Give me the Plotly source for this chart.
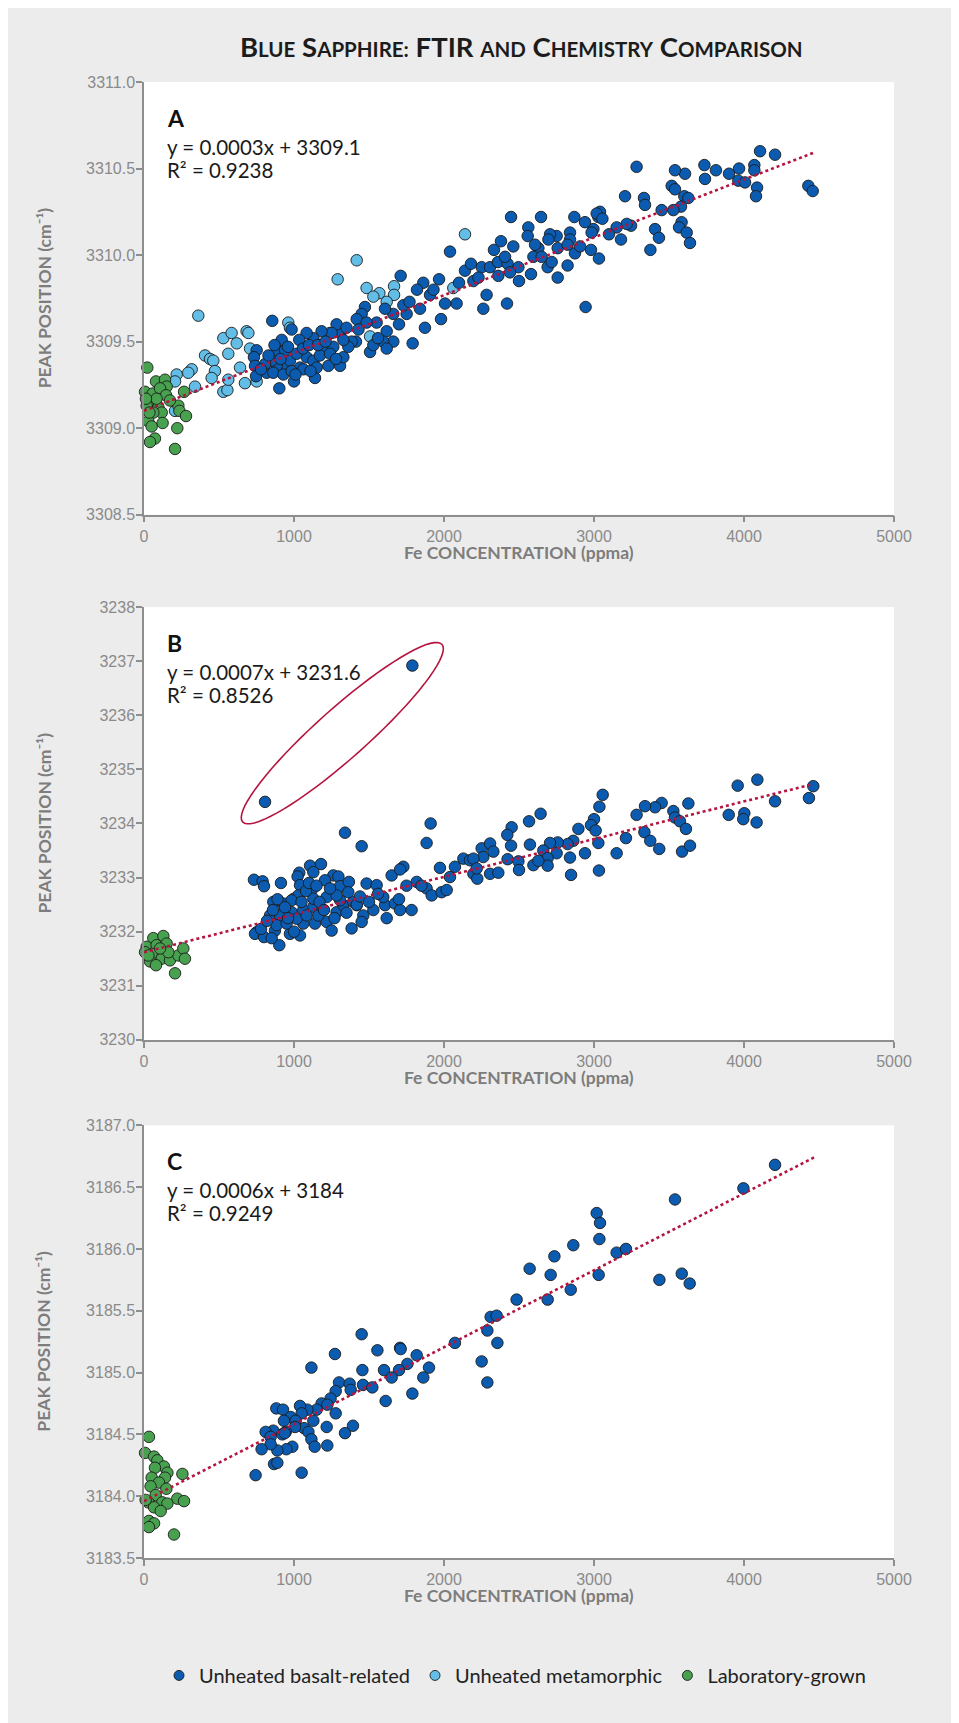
import math
import plotly.graph_objects as go

# ---------------- data ----------------
A_BASALT = [
    (855, 3309.62), (1711, 3309.88), (2040, 3310.02), (2333, 3310.03), (2262, 3309.69), (1980, 3309.63), (1873, 3309.58), (1791, 3309.49), (1862, 3309.84), (1967, 3309.86),
    (2251, 3309.93), (2307, 3309.93), (2140, 3309.91), (2196, 3309.85), (2284, 3309.77), (2084, 3309.72), (2007, 3309.72), (1907, 3309.77), (1840, 3309.69), (1751, 3309.66),
    (1729, 3309.71), (1662, 3309.66), (1607, 3309.69), (1551, 3309.61), (1618, 3309.56), (1662, 3309.50), (1595, 3309.50), (1618, 3309.46), (1507, 3309.44), (1529, 3309.48),
    (1473, 3309.70), (1451, 3309.66), (1418, 3309.63), (1484, 3309.61), (1413, 3309.50), (1384, 3309.50), (1307, 3309.55), (1284, 3309.60), (1251, 3309.55), (1184, 3309.56),
    (1129, 3309.52), (1084, 3309.55), (1035, 3309.51), (984, 3309.57), (918, 3309.51), (884, 3309.45), (751, 3309.45), (733, 3309.41), (740, 3309.36), (747, 3309.30),
    (818, 3309.32), (902, 3309.23), (1000, 3309.27), (1140, 3309.29), (1229, 3309.36), (1307, 3309.36), (1329, 3309.41), (1362, 3309.47), (1196, 3309.45), (1084, 3309.41),
    (1040, 3309.35), (951, 3309.35), (884, 3309.36), (851, 3309.39), (807, 3309.37), (973, 3309.39), (1018, 3309.43), (1129, 3309.39), (1173, 3309.42), (1262, 3309.47),
    (1329, 3309.51), (940, 3309.45), (862, 3309.32), (929, 3309.31), (1062, 3309.34), (1151, 3309.35), (984, 3309.33),
    (780, 3309.34), (830, 3309.42), (870, 3309.48), (910, 3309.40), (960, 3309.47), (1010, 3309.31), (1060, 3309.46), (1100, 3309.48), (1110, 3309.33), (1160, 3309.48),
    (1210, 3309.50), (1240, 3309.43), (1280, 3309.40), (1350, 3309.58), (1430, 3309.57), (1560, 3309.52), (1700, 3309.60), (1770, 3309.73), (1820, 3309.80), (1930, 3309.80),
    (2100, 3309.84), (2180, 3309.95), (2230, 3309.87), (2360, 3309.96), (2380, 3310.08),
    (4107, 3310.60), (4207, 3310.58), (4069, 3310.52), (4069, 3310.49), (3967, 3310.50), (3900, 3310.47), (3813, 3310.49), (3736, 3310.52), (3740, 3310.44), (3607, 3310.47),
    (3540, 3310.49), (3284, 3310.51), (3962, 3310.43), (4007, 3310.42), (4087, 3310.39), (4080, 3310.34), (4429, 3310.40), (4458, 3310.37), (3518, 3310.40), (3540, 3310.38),
    (3602, 3310.34), (3629, 3310.33), (3580, 3310.28), (3529, 3310.26), (3451, 3310.26), (3333, 3310.33), (3340, 3310.29), (3207, 3310.34), (3584, 3310.19), (3567, 3310.16),
    (3618, 3310.13), (3640, 3310.07), (3407, 3310.15), (3433, 3310.10), (3376, 3310.03), (3247, 3310.17), (3218, 3310.18), (3151, 3310.16), (3180, 3310.09), (3100, 3310.12),
    (3040, 3310.25), (3029, 3310.22), (3018, 3310.24), (3056, 3310.21), (2996, 3310.15), (2984, 3310.13), (2940, 3310.19), (2869, 3310.22), (2980, 3310.03), (3033, 3309.98),
    (2944, 3309.70), (2873, 3310.01), (2840, 3310.13), (2840, 3310.09), (2907, 3310.05), (2824, 3309.94), (2758, 3309.87), (2758, 3310.04), (2751, 3310.11), (2707, 3310.12),
    (2696, 3310.09), (2629, 3310.04), (2647, 3310.22), (2691, 3309.93), (2562, 3310.16), (2558, 3310.11), (2607, 3310.06), (2596, 3309.99), (2580, 3309.89), (2500, 3309.85),
    (2496, 3309.93), (2462, 3310.05), (2447, 3310.22), (2424, 3309.95), (2440, 3309.90), (2420, 3309.72), (2362, 3309.88), (2407, 3309.99), (2651, 3309.99), (2718, 3309.96),
    (2824, 3310.06),
]
A_META = [
    (362, 3309.65), (529, 3309.52), (584, 3309.55), (618, 3309.49), (684, 3309.56), (696, 3309.55), (707, 3309.46), (407, 3309.42), (440, 3309.40), (462, 3309.39),
    (562, 3309.43), (473, 3309.33), (451, 3309.29), (318, 3309.34), (295, 3309.32), (218, 3309.31), (207, 3309.27), (340, 3309.24), (529, 3309.21), (556, 3309.22),
    (562, 3309.28), (673, 3309.26), (751, 3309.27), (640, 3309.35), (207, 3309.10), (1418, 3309.97), (1291, 3309.86), (1484, 3309.81), (1569, 3309.78), (1667, 3309.82),
    (1667, 3309.77), (1618, 3309.73), (2140, 3310.12), (962, 3309.61), (973, 3309.58), (1507, 3309.53), (1240, 3309.55), (2062, 3309.81), (1529, 3309.76),
]
A_LAB = [
    (22, 3309.35), (80, 3309.27), (140, 3309.28), (151, 3309.24), (7, 3309.21), (58, 3309.20), (107, 3309.23), (147, 3309.19), (51, 3309.15), (18, 3309.13),
    (96, 3309.12), (229, 3309.13), (267, 3309.21), (236, 3309.10), (280, 3309.07), (118, 3309.09), (62, 3309.09), (29, 3309.04), (124, 3309.03), (51, 3309.01),
    (222, 3309.00), (73, 3308.94), (40, 3308.92), (207, 3308.88), (36, 3309.09), (173, 3309.16), (84, 3309.17), (13, 3309.17),
]
A_TREND_X = [0, 4460]
A_TREND_Y = [3309.10, 3310.59]

B_BASALT = [
    (1911, 3234.00), (1340, 3233.83), (1451, 3233.58), (1884, 3233.64), (733, 3232.96), (791, 3232.93), (800, 3232.84), (913, 3232.90), (1035, 3233.09), (1107, 3233.22),
    (1180, 3233.25), (1129, 3233.10), (1024, 3233.02), (1262, 3233.04), (1296, 3233.02), (1207, 3232.95), (1307, 3232.84), (1366, 3232.92), (1484, 3232.89), (1551, 3232.86),
    (1651, 3233.04), (1729, 3233.20), (1707, 3233.15), (1818, 3232.92), (1884, 3232.80), (1918, 3232.67), (1973, 3233.18), (1984, 3232.73), (2018, 3232.77), (2040, 3233.01),
    (2073, 3233.20), (2129, 3233.35), (2173, 3233.32), (2196, 3233.07), (2222, 3232.98), (2251, 3233.54), (2262, 3233.38), (2307, 3233.63), (2329, 3233.48), (2307, 3233.07),
    (862, 3232.55), (929, 3232.52), (1000, 3232.61), (840, 3232.30), (907, 3232.30), (984, 3232.36), (1062, 3232.40), (1129, 3232.46), (1191, 3232.41), (1284, 3232.36),
    (1329, 3232.49), (1395, 3232.55), (1418, 3232.49), (1462, 3232.30), (1529, 3232.40), (1607, 3232.49), (1673, 3232.52), (1707, 3232.40), (1784, 3232.40), (1618, 3232.25),
    (1595, 3232.64), (751, 3231.99), (740, 3231.96), (800, 3231.90), (873, 3232.02), (902, 3231.75), (973, 3231.96), (1040, 3231.93), (1062, 3232.15), (1140, 3232.15),
    (1218, 3232.18), (1251, 3232.02), (1384, 3232.06), (1451, 3232.18), (851, 3231.88), (884, 3232.12), (951, 3232.15), (1018, 3232.24), (1084, 3232.30), (1162, 3232.30),
    (1218, 3232.64), (1118, 3232.77), (1040, 3232.86), (1029, 3232.67), (984, 3232.58), (1129, 3232.61), (1307, 3232.58), (1362, 3232.73), (1418, 3232.50), (1284, 3232.67),
    (2196, 3233.35), (2218, 3233.17),
    (780, 3232.05), (820, 3232.20), (860, 3232.40), (890, 3232.60), (940, 3232.45), (960, 3232.25), (1000, 3232.00), (1050, 3232.55), (1080, 3232.75), (1100, 3232.90),
    (1150, 3232.85), (1170, 3232.55), (1200, 3232.40), (1240, 3232.80), (1270, 3232.25), (1350, 3232.35), (1440, 3232.65), (1500, 3232.55), (1560, 3232.70), (1700, 3232.60),
    (1750, 3232.85), (1850, 3232.85),
    (4462, 3234.69), (4433, 3234.47), (4089, 3234.81), (3958, 3234.70), (4207, 3234.41), (3898, 3234.16), (4002, 3234.19), (3995, 3234.08), (4084, 3234.02), (3629, 3234.37),
    (3451, 3234.38), (3407, 3234.30), (3340, 3234.32), (3284, 3234.16), (3529, 3234.23), (3540, 3234.11), (3573, 3234.04), (3613, 3233.90), (3336, 3233.84), (3375, 3233.68),
    (3435, 3233.53), (3587, 3233.48), (3640, 3233.59), (3213, 3233.73), (3151, 3233.45), (3058, 3234.53), (3036, 3234.31), (3000, 3234.08), (2980, 3233.97), (3011, 3233.87),
    (3029, 3233.64), (3033, 3233.13), (2940, 3233.45), (2840, 3233.37), (2847, 3233.05), (2896, 3233.90), (2862, 3233.68), (2824, 3233.62), (2758, 3233.65), (2751, 3233.45),
    (2707, 3233.64), (2662, 3233.50), (2691, 3233.36), (2691, 3233.22), (2644, 3234.18), (2567, 3234.04), (2573, 3233.61), (2451, 3233.93), (2422, 3233.79), (2447, 3233.59),
    (2424, 3233.34), (2496, 3233.30), (2500, 3233.14), (2596, 3233.23), (2629, 3233.31), (2362, 3233.09),
    (807, 3234.40), (1789, 3236.92),
]
B_LAB = [
    (62, 3231.88), (129, 3231.92), (18, 3231.72), (84, 3231.75), (151, 3231.78), (51, 3231.59), (118, 3231.50), (40, 3231.45), (80, 3231.38), (173, 3231.47),
    (229, 3231.56), (262, 3231.69), (273, 3231.50), (207, 3231.23), (7, 3231.62), (162, 3231.62), (107, 3231.69), (29, 3231.56),
]
B_TREND_X = [0, 4462]
B_TREND_Y = [3231.62, 3234.73]

C_BASALT = [
    (2571, 3185.84), (2484, 3185.59), (2311, 3185.45), (2351, 3185.46), (2289, 3185.34), (2356, 3185.24), (2073, 3185.24), (2251, 3185.09), (2289, 3184.92), (1451, 3185.31),
    (1273, 3185.15), (1556, 3185.18), (1707, 3185.20), (1711, 3185.19), (1818, 3185.14), (1756, 3185.07), (1900, 3185.04), (1862, 3184.96), (1700, 3185.02), (1600, 3185.02),
    (1651, 3184.96), (1456, 3185.02), (1116, 3185.04), (1300, 3184.92), (1371, 3184.91), (1460, 3184.90), (1522, 3184.88), (1378, 3184.86), (1278, 3184.85), (1244, 3184.79),
    (1789, 3184.83), (1611, 3184.77), (1184, 3184.75), (1222, 3184.74), (1151, 3184.70), (1089, 3184.70), (1040, 3184.73), (882, 3184.71), (927, 3184.70), (1278, 3184.67),
    (1051, 3184.67), (978, 3184.64), (933, 3184.61), (1011, 3184.61), (1129, 3184.61), (1218, 3184.56), (1393, 3184.57), (1340, 3184.51), (1067, 3184.55), (1007, 3184.56),
    (945, 3184.52), (862, 3184.53), (811, 3184.52), (844, 3184.48), (922, 3184.50), (938, 3184.51), (1096, 3184.52), (1116, 3184.46), (1138, 3184.40), (1222, 3184.41),
    (989, 3184.40), (949, 3184.38), (889, 3184.37), (844, 3184.42), (784, 3184.38), (867, 3184.26), (889, 3184.27), (744, 3184.17), (1051, 3184.19),
    (4207, 3186.68), (3996, 3186.49), (3540, 3186.40), (3018, 3186.29), (3040, 3186.21), (3036, 3186.08), (2862, 3186.03), (2736, 3185.94), (2711, 3185.79), (3151, 3185.97),
    (3213, 3186.00), (3031, 3185.79), (2845, 3185.67), (2691, 3185.59), (3436, 3185.75), (3585, 3185.80), (3638, 3185.72),
]
C_LAB = [
    (33, 3184.48), (7, 3184.35), (67, 3184.32), (89, 3184.29), (133, 3184.24), (73, 3184.23), (156, 3184.19), (256, 3184.18), (51, 3184.15), (140, 3184.15),
    (100, 3184.11), (44, 3184.08), (149, 3184.06), (78, 3184.01), (29, 3183.95), (122, 3183.95), (222, 3183.98), (267, 3183.96), (156, 3183.94), (67, 3183.91),
    (111, 3183.88), (33, 3183.80), (67, 3183.78), (33, 3183.75), (200, 3183.69), (11, 3183.97),
]
C_TREND_X = [0, 4467]
C_TREND_Y = [3183.96, 3186.74]

PANEL_LABELS = ["A", "B", "C"]
EQUATIONS = ["y = 0.0003x + 3309.1", "y = 0.0007x + 3231.6", "y = 0.0006x + 3184"]
R2_TEXTS = ["R² = 0.9238", "R² = 0.8526", "R² = 0.9249"]
Y_RANGES = [(3308.5, 3311.0), (3230.0, 3238.0), (3183.5, 3187.0)]
Y_DTICKS = [0.5, 1.0, 0.5]
X_TICKS = [0, 1000, 2000, 3000, 4000, 5000]
SERIES_NAMES = ["Unheated basalt-related", "Unheated metamorphic", "Laboratory-grown"]

# ---------------- styling / layout (figure sits inside the page's 8px body margin) ----------------
W, H = 951, 1715
ML, PW = 136, 750
MR = W - ML - PW
panel_h = 433
tops = [73.5, 599.0, 1117.5]
MT = tops[0]
BOTTOM = tops[2] + panel_h
MB = H - BOTTOM
PH = H - MT - MB

BASALT_C = "#0B5CB0"
META_C = "#62BDE7"
LAB_C = "#48A14F"
TREND_C = "#B5143F"
EDGE = "#1b1b1b"
AXIS_C = "#8e8e8e"
TICK_FONT = dict(family="Liberation Sans", size=16, color="#8a8a8a")
TXT_FONT = "Lato"


def px_x(px):
    return (px - ML) / PW


def px_y(py):
    return (BOTTOM - py) / PH


domains = [[max(0.0, px_y(t + panel_h)), min(1.0, px_y(t))] for t in tops]

fig = go.Figure()


def unzip(pairs):
    return [p[0] for p in pairs], [p[1] for p in pairs]


def add_points(pairs, color, xa, ya):
    xs, ys = unzip(pairs)
    fig.add_trace(go.Scatter(
        x=xs, y=ys, mode="markers", xaxis=xa, yaxis=ya, showlegend=False,
        cliponaxis=False, hoverinfo="skip",
        marker=dict(size=11.5, color=color, line=dict(color=EDGE, width=0.9)),
    ))


def add_trend(xs, ys, xa, ya):
    fig.add_trace(go.Scatter(
        x=xs, y=ys, mode="lines", xaxis=xa, yaxis=ya, showlegend=False,
        hoverinfo="skip", line=dict(color=TREND_C, width=2.6, dash="dot"),
    ))


# Panel A
add_points(A_META, META_C, "x", "y")
add_points(A_BASALT, BASALT_C, "x", "y")
add_points(A_LAB, LAB_C, "x", "y")
add_trend(A_TREND_X, A_TREND_Y, "x", "y")
# Panel B
add_points(B_BASALT, BASALT_C, "x2", "y2")
add_points(B_LAB, LAB_C, "x2", "y2")
add_trend(B_TREND_X, B_TREND_Y, "x2", "y2")
# Panel C
add_points(C_BASALT, BASALT_C, "x3", "y3")
add_points(C_LAB, LAB_C, "x3", "y3")
add_trend(C_TREND_X, C_TREND_Y, "x3", "y3")

# legend entries
for name, col in zip(SERIES_NAMES, [BASALT_C, META_C, LAB_C]):
    fig.add_trace(go.Scatter(
        x=[None], y=[None], mode="markers", name=name, xaxis="x", yaxis="y",
        marker=dict(size=10, color=col, line=dict(color=EDGE, width=0.9)),
    ))

axis_common = dict(
    showgrid=False, zeroline=False, showline=True, linecolor=AXIS_C, linewidth=1.5,
    ticks="outside", tickcolor=AXIS_C, tickwidth=1.5, tickfont=TICK_FONT, ticklen=6,
)

layout_axes = {}
for i in range(3):
    sx = "" if i == 0 else str(i + 1)
    layout_axes["xaxis" + sx] = dict(
        axis_common, domain=[0, 1], anchor="y" + sx, range=[0, 5000],
        tickvals=X_TICKS, ticklabelstandoff=0,
    )
    layout_axes["yaxis" + sx] = dict(
        axis_common, domain=domains[i], anchor="x" + sx, range=list(Y_RANGES[i]),
        dtick=Y_DTICKS[i], tick0=Y_RANGES[i][0], ticklabelstandoff=-2,
        tickformat=".1f" if Y_DTICKS[i] < 1 else "d",
    )

annotations = []
# title in small caps
sm = "<span style='font-size:20.5px'>"
title = ("<b>B" + sm + "LUE</span> S" + sm + "APPHIRE:</span> FTIR " + sm + "AND</span> C"
         + sm + "HEMISTRY</span> C" + sm + "OMPARISON</span></b>")
annotations.append(dict(
    text=title, xref="paper", yref="paper", x=px_x(513), y=px_y(38),
    xanchor="center", yanchor="middle", showarrow=False,
    font=dict(family=TXT_FONT, size=27.5, color="#1c1c1c"),
))

lx = (157 - ML) / PW
for i in range(3):
    sx = "" if i == 0 else str(i + 1)
    top = tops[i]
    xd, yd = "x" + sx + " domain", "y" + sx + " domain"
    annotations.append(dict(
        text="<b>" + PANEL_LABELS[i] + "</b>", xref=xd, yref=yd, x=lx,
        y=1 - 36 / panel_h, xanchor="left", yanchor="middle", showarrow=False,
        font=dict(family=TXT_FONT, size=23, color="#111111"),
    ))
    annotations.append(dict(
        text=EQUATIONS[i], xref=xd, yref=yd, x=lx, y=1 - 65 / panel_h,
        xanchor="left", yanchor="middle", showarrow=False,
        font=dict(family=TXT_FONT, size=20.5, color="#1a1a1a"),
    ))
    annotations.append(dict(
        text=R2_TEXTS[i], xref=xd, yref=yd, x=lx, y=1 - 88 / panel_h,
        xanchor="left", yanchor="middle", showarrow=False,
        font=dict(family=TXT_FONT, size=20.5, color="#1a1a1a"),
    ))
    # y-axis title
    annotations.append(dict(
        text="<b>PEAK POSITION (cm⁻¹)</b>", xref="paper", yref="paper",
        x=px_x(36), y=px_y(top + panel_h / 2), textangle=-90,
        xanchor="center", yanchor="middle", showarrow=False,
        font=dict(family=TXT_FONT, size=17.5, color="#7d7d7d"),
    ))
    # x-axis title
    annotations.append(dict(
        text="<b>Fe CONCENTRATION (ppma)</b>", xref="paper", yref="paper",
        x=px_x(511), y=px_y(top + panel_h + 38),
        xanchor="center", yanchor="middle", showarrow=False,
        font=dict(family=TXT_FONT, size=17.5, color="#7d7d7d"),
    ))

# ellipse around the two outliers in panel B (centre in data units, size in pixels)
E_CX, E_CY = 1322, 3235.67
ea, eb, th = 133.5, 25.0, math.radians(41.7)
kx = 5000 / PW                                   # data units per pixel (x)
ky = (Y_RANGES[1][1] - Y_RANGES[1][0]) / panel_h  # data units per pixel (y)
pts = []
for k in range(73):
    t = 2 * math.pi * k / 72
    dx = ea * math.cos(t) * math.cos(th) - eb * math.sin(t) * math.sin(th)
    dy = ea * math.cos(t) * math.sin(th) + eb * math.sin(t) * math.cos(th)
    pts.append((E_CX + dx * kx, E_CY + dy * ky))
path = "M " + " L ".join(f"{x:.2f},{y:.4f}" for x, y in pts) + " Z"

shapes = [
    dict(type="path", path=path, xref="x2", yref="y2", line=dict(color=TREND_C, width=1.6),
         fillcolor="rgba(0,0,0,0)", layer="above"),
]

fig.update_layout(
    width=W, height=H, margin=dict(l=ML, r=MR, t=MT, b=MB, pad=0),
    paper_bgcolor="#ECECEC", plot_bgcolor="white",
    annotations=annotations, shapes=shapes,
    legend=dict(
        orientation="h", x=px_x(507), xanchor="center", y=px_y(1668), yanchor="middle",
        font=dict(family=TXT_FONT, size=20, color="#222222"), bgcolor="rgba(0,0,0,0)",
        itemclick=False, itemdoubleclick=False,
    ),
    **layout_axes,
)

fig.write_html("out.html")
